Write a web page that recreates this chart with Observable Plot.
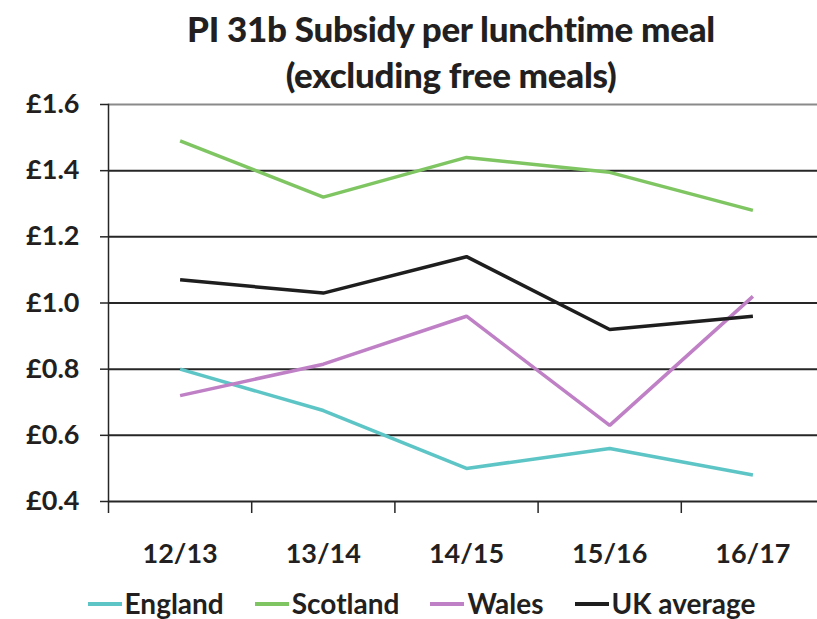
<!DOCTYPE html>
<html>
<head>
<meta charset="utf-8">
<script src="https://cdn.jsdelivr.net/npm/d3@7"></script>
<script src="https://cdn.jsdelivr.net/npm/@observablehq/plot@0.6"></script>
<style>
  html, body { margin: 0; padding: 0; background: #fff; }
  body { width: 817px; height: 619px; overflow: hidden; position: relative; font-family: Lato, sans-serif; color: #231f20; }
  #title { position: absolute; left: 0; top: 5px; width: 902px; text-align: center; font-weight: 900; font-size: 35px; line-height: 46px; letter-spacing: -0.3px; }
  #chart { position: absolute; left: 0; top: 76px; }
  #legend { position: absolute; left: 0; top: 586px; width: 843px; display: flex; justify-content: center; gap: 31px; font-weight: bold; font-size: 28px; line-height: 34px; }
  .item { display: flex; align-items: center; }
  .sw { width: 34px; height: 4px; margin-right: 3px; margin-top: 2px; }
</style>
</head>
<body>
<div id="title">PI 31b Subsidy per lunchtime meal<br>(excluding free meals)</div>
<div id="chart"></div>
<div id="legend"></div>
<script>
const categories = ["12/13", "13/14", "14/15", "15/16", "16/17"];
const seriesNames = ["England", "Scotland", "Wales", "UK average"];
const seriesColors = ["#5ec5c6", "#7fc663", "#bf80c6", "#1e1e1e"];
const england = [0.80, 0.675, 0.50, 0.56, 0.48];
const scotland = [1.49, 1.32, 1.44, 1.395, 1.28];
const wales = [0.72, 0.815, 0.96, 0.63, 1.02];
const ukAverage = [1.07, 1.03, 1.14, 0.92, 0.96];
const yTicks = [0.4, 0.6, 0.8, 1.0, 1.2, 1.4, 1.6];

const seriesValues = [england, scotland, wales, ukAverage];
const data = seriesNames.flatMap((name, s) =>
  seriesValues[s].map((v, i) => ({name, i, v})));
const centers = categories.map((c, i) => i);
const boundaries = categories.map((c, i) => i - 0.5);

const plot = Plot.plot({
  width: 817,
  height: 512,
  marginLeft: 108,
  marginRight: 0,
  marginTop: 28,
  marginBottom: 87,
  style: {fontFamily: "Lato, sans-serif", color: "#231f20", background: "transparent"},
  x: {domain: [-0.5, categories.length - 0.5], range: [108, 824], axis: null},
  y: {domain: [0.4, 1.6], axis: null},
  color: {domain: seriesNames, range: seriesColors},
  marks: [
    Plot.ruleY(yTicks, {stroke: d => d === 1.6 ? "#8a8a8a" : "#262626", strokeWidth: 2}),
    Plot.frame({anchor: "left", stroke: "#262626", strokeWidth: 1.5}),
    Plot.axisY(yTicks, {
      tickSize: 8, tickPadding: 21, stroke: "#262626", strokeWidth: 1.5,
      tickFormat: d => "£" + d.toFixed(1), fontSize: 27, fontWeight: "bold", label: null
    }),
    Plot.axisX(boundaries, {tickSize: 12, stroke: "#262626", strokeWidth: 1.5, tickFormat: () => "", label: null}),
    Plot.axisX(centers, {
      tickSize: 0, tickPadding: 42, tickFormat: i => categories[i],
      fontSize: 27, fontWeight: "bold", label: null
    }),
    Plot.line(data, {x: "i", y: "v", z: "name", stroke: "name", strokeWidth: 3.5, strokeLinejoin: "miter", strokeLinecap: "butt"})
  ]
});
document.getElementById("chart").appendChild(plot);

const legend = document.getElementById("legend");
seriesNames.forEach((name, s) => {
  const item = document.createElement("div");
  item.className = "item";
  const sw = document.createElement("span");
  sw.className = "sw";
  sw.style.background = seriesColors[s];
  const label = document.createElement("span");
  label.textContent = name;
  item.appendChild(sw);
  item.appendChild(label);
  legend.appendChild(item);
});
</script>
</body>
</html>
